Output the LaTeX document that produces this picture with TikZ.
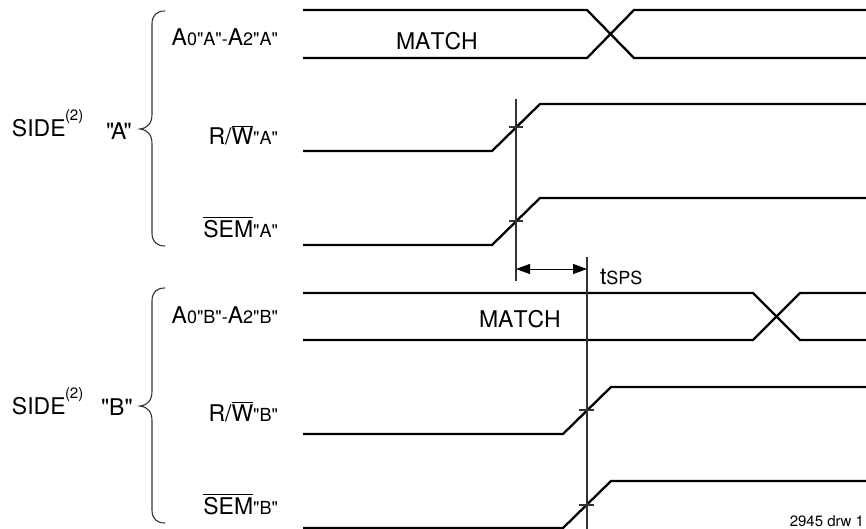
\documentclass[tikz,border=0pt]{standalone}
\usepackage{fontspec}
\setmainfont{TeX Gyre Heros}[Ligatures=TeXOff,Kerning=Off]
\usetikzlibrary{arrows.meta}
\newcommand{\lbl}[1]{{\fontsize{23}{25}\selectfont #1}}
\newcommand{\sml}[1]{{\fontsize{18}{20}\selectfont #1}}
\newcommand{\ovl}[1]{\vbox{\hrule height 1.2pt\kern 1.4pt\hbox{#1}}}
\tikzset{
  wave/.style={draw=black,line width=2.3pt,line join=miter},
  guide/.style={draw=black!80,line width=1.1pt},
  curly/.style={draw=black!80,line width=1.1pt},
  txt/.style={inner sep=0pt,outer sep=0pt,anchor=base west},
  txtr/.style={inner sep=0pt,outer sep=0pt,anchor=base east},
  dimline/.style={draw=black,line width=1pt,{Triangle[length=14pt,width=10pt]}-{Triangle[length=14pt,width=10pt]}}
}
\begin{document}
\begin{tikzpicture}[x=1pt,y=-1pt]
\useasboundingbox (0,0) rectangle (866,529);
% braces
\draw[curly] (165,11) .. controls (157,11) and (152,15) .. (152,24) -- (152,114) .. controls (152,123) and (148,128) .. (140,129) .. controls (148,130) and (152,135) .. (152,144) -- (152,233) .. controls (152,242) and (157,246) .. (165,246);
\draw[curly] (165,288) .. controls (157,288) and (152,292) .. (152,301) -- (152,391) .. controls (152,400) and (148,405) .. (140,406) .. controls (148,407) and (152,412) .. (152,421) -- (152,510) .. controls (152,519) and (157,523) .. (165,523);
% side labels
\node[txt] (sideA) at (12,137) {\lbl{SIDE}};
\node[txt] (sup2A) at (65,121) {\fontsize{15}{17}\selectfont (2)};
\node[txt] (qA) at (106,140) {\lbl{"\kern-3pt A\kern-3pt "}};
\node[txt] (sideB) at (12,414) {\lbl{SIDE}};
\node[txt] (sup2B) at (65,398) {\fontsize{15}{17}\selectfont (2)};
\node[txt] (qB) at (101,415) {\lbl{"B"}};
% signal labels
\node[txtr] (a0A) at (278,45.5) {\lbl{A}\sml{0"A"-}\lbl{A}\sml{2"A"}};
\node[txtr] (rwA) at (278,145) {\lbl{R/\ovl{W}}\sml{"A"}};
\node[txtr] (semA) at (278,237) {\lbl{\ovl{SEM}}\sml{"A"}};
\node[txtr] (a0B) at (278,323) {\lbl{A}\sml{0"B"-}\lbl{A}\sml{2"B"}};
\node[txtr] (rwB) at (278,421) {\lbl{R/\ovl{W}}\sml{"B"}};
\node[txtr] (semB) at (278,514) {\lbl{\ovl{SEM}}\sml{"B"}};
\node[txt] (mA) at (396,50) {\lbl{MATCH}};
\node[txt] (mB) at (479,327) {\lbl{MATCH}};
\node[txt] (tsps) at (600,284) {\lbl{t}\sml{SPS}};
\node[txtr] (drw) at (864,526) {\fontsize{15}{17}\selectfont 2945 drw 1};
% waveforms
\draw[wave] (303,10) -- (587,10) -- (634,58) -- (866,58);
\draw[wave] (303,58) -- (587,58) -- (634,10) -- (866,10);
\draw[wave] (303,151) -- (492,151) -- (540,104) -- (866,104);
\draw[wave] (303,245) -- (492,245) -- (540,198) -- (866,198);
\draw[wave] (303,293) -- (753,293) -- (800,340) -- (866,340);
\draw[wave] (303,340) -- (753,340) -- (800,293) -- (866,293);
\draw[wave] (303,434) -- (563,434) -- (611,387) -- (866,387);
\draw[wave] (303,528) -- (563,528) -- (611,481) -- (866,481);
% guides
\coordinate (g1t) at (516,99); \coordinate (g1b) at (516,281);
\coordinate (g2t) at (587,257); \coordinate (g2b) at (587,529);
\draw[guide] (g1t) -- (g1b);
\draw[guide] (g2t) -- (g2b);
\draw[guide] (509,127) -- (523,127);
\draw[guide] (509,221) -- (523,221);
\draw[guide] (579,410) -- (594,410);
\draw[guide] (579,505) -- (594,505);
\coordinate (d1) at (516,269); \coordinate (d2) at (587,269);
\draw[dimline] (d1) -- (d2);
\end{tikzpicture}
\end{document}
